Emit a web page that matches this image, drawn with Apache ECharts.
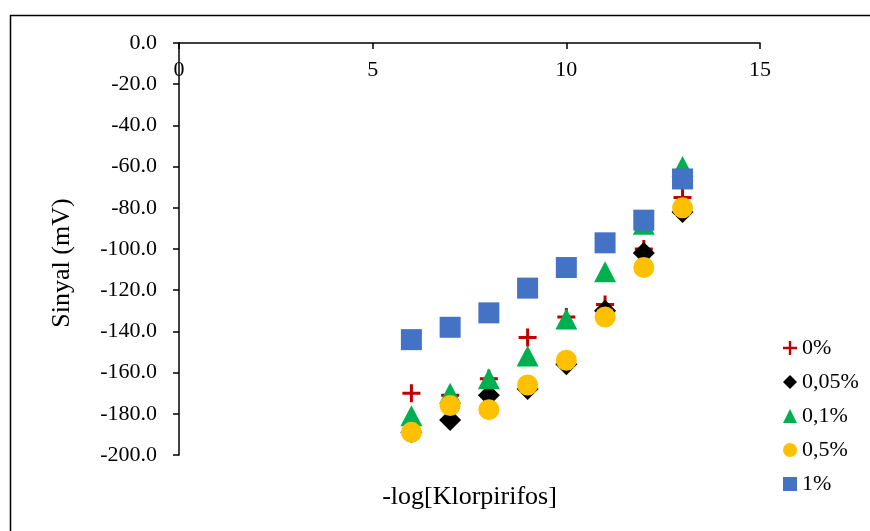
<!DOCTYPE html>
<html>
<head>
<meta charset="utf-8">
<script src="https://cdn.jsdelivr.net/npm/echarts@6/dist/echarts.min.js"></script>
<style>
html,body{margin:0;padding:0;background:#fff;}
#chart{width:870px;height:531px;}
</style>
</head>
<body>
<div id="chart"></div>
<script>
const xValues = [6, 7, 8, 9, 10, 11, 12, 13];
const seriesNames = ['0%', '0,05%', '0,1%', '0,5%', '1%'];
const s0 = [-170, -171, -163, -143, -133, -127, -100, -75];
const s005 = [-189, -183, -171, -168, -156, -130, -102, -82];
const s01 = [-181, -170, -163, -152, -134, -111, -88, -60];
const s05 = [-189, -176, -178, -166, -154, -133, -109, -80];
const s1 = [-144, -138, -131, -119, -109, -97, -86, -66];
const yTicks = [0, -20, -40, -60, -80, -100, -120, -140, -160, -180, -200];
const xTicks = [0, 5, 10, 15];

const FONT = '"Liberation Serif", "Times New Roman", serif';
const plusPath = 'path://M7.5,0 H10.5 V7.5 H18 V10.5 H10.5 V18 H7.5 V10.5 H0 V7.5 H7.5 Z';

function pts(arr){ return xValues.map((x,i)=>[x, arr[i]]); }

const styles = [
  {symbol: plusPath, size: [18,18], color: '#C00000'},
  {symbol: 'diamond', size: [22,22], color: '#000000'},
  {symbol: 'triangle', size: [22,21], color: '#00B050'},
  {symbol: 'circle', size: [21,21], color: '#FFC000'},
  {symbol: 'rect', size: [21,21], color: '#4472C4'}
];
const data = [s0, s005, s01, s05, s1];

const chart = echarts.init(document.getElementById('chart'));
chart.setOption({
  animation: false,
  backgroundColor: '#ffffff',
  textStyle: {fontFamily: FONT},
  grid: {left: 179, right: 110, top: 43, bottom: 76},
  graphic: [{
    type: 'rect', left: 8, top: 13,
    shape: {width: 900, height: 600},
    style: {fill: 'none', stroke: '#000', lineWidth: 1.5},
    silent: true
  }],
  legend: {
    orient: 'vertical', left: 778, top: 332,
    itemWidth: 14, itemHeight: 14, itemGap: 12,
    textStyle: {fontFamily: FONT, fontSize: 22, color: '#000'},
    data: seriesNames.map((n,i)=>({name: n, icon: styles[i].symbol}))
  },
  xAxis: {
    type: 'value', position: 'top', min: 0, max: 15, interval: 5,
    name: '-log[Klorpirifos]', nameLocation: 'middle', nameGap: -454,
    nameTextStyle: {fontFamily: FONT, fontSize: 26, color: '#000', verticalAlign: 'middle'},
    axisLine: {show: true, onZero: false, lineStyle: {color: '#000', width: 1.5}},
    axisTick: {show: true, inside: true, length: 6, lineStyle: {color: '#000', width: 1.5}},
    axisLabel: {inside: true, margin: 16, fontFamily: FONT, fontSize: 22, color: '#000',
      formatter: v => xTicks.includes(v) ? String(v) : ''},
    splitLine: {show: false}
  },
  yAxis: {
    type: 'value', min: -200, max: 0, interval: 20,
    name: 'Sinyal (mV)', nameLocation: 'middle', nameGap: 104, nameRotate: 90,
    nameTextStyle: {fontFamily: FONT, fontSize: 26, color: '#000', padding: [0, 28, 0, 0]},
    axisLine: {show: true, onZero: false, lineStyle: {color: '#000', width: 1.5}},
    axisTick: {show: true, inside: false, length: 6, lineStyle: {color: '#000', width: 1.5}},
    axisLabel: {margin: 22, fontFamily: FONT, fontSize: 22, color: '#000',
      formatter: v => yTicks.includes(v) ? v.toFixed(1) : ''},
    splitLine: {show: false}
  },
  series: data.map((d,i)=>({
    name: seriesNames[i], type: 'scatter', data: pts(d),
    symbol: styles[i].symbol, symbolSize: styles[i].size,
    itemStyle: {color: styles[i].color, opacity: 1}
  }))
});
</script>
</body>
</html>
